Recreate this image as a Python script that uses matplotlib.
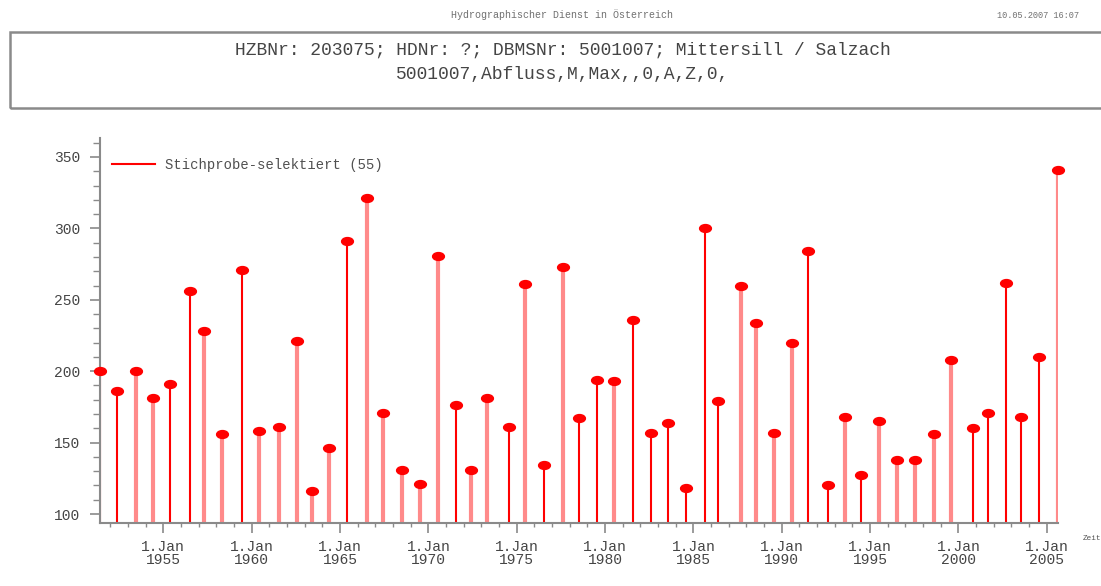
import matplotlib
matplotlib.use("Agg")
import matplotlib.pyplot as plt
import matplotlib.dates as mdates
import matplotlib.transforms as mtransforms
from matplotlib.lines import Line2D
from matplotlib.patches import Rectangle
from matplotlib.path import Path
import numpy as np

# annual maximum discharge, Mittersill / Salzach
dates = [
    "1951-06-03", "1952-05-23", "1953-06-21", "1954-06-07", "1955-05-27",
    "1956-07-13", "1957-05-01", "1958-05-08", "1959-06-07", "1960-05-27",
    "1961-07-13", "1962-07-24", "1963-05-30", "1964-05-19", "1965-05-27",
    "1966-07-13", "1967-06-10", "1968-07-09", "1969-07-20", "1970-07-27",
    "1971-08-04", "1972-06-10", "1973-04-20", "1974-07-20", "1975-06-14",
    "1976-07-13", "1977-08-11", "1978-07-09", "1979-07-20", "1980-07-05",
    "1981-08-04", "1982-08-11", "1983-07-31", "1984-08-07", "1985-09-06",
    "1986-06-03", "1987-09-02", "1988-07-09", "1989-07-20", "1990-07-27",
    "1991-06-25", "1992-08-11", "1993-07-31", "1994-06-28", "1995-07-05",
    "1996-07-13", "1997-07-24", "1998-08-22", "1999-08-07", "2000-10-19",
    "2001-09-13", "2002-09-02", "2003-07-09", "2004-07-20", "2005-08-20",
]
discharge = [
    200, 186, 200, 181, 191, 256, 228, 156, 271, 158,
    161, 221, 116, 146, 291, 321, 171, 131, 121, 281,
    176, 131, 181, 161, 261, 134, 273, 167, 194, 193,
    236, 157, 164, 118, 300, 179, 260, 234, 157, 220,
    284, 120, 168, 127, 165, 138, 138, 156, 208, 160,
    171, 262, 168, 210, 341,
]
legend_label = f"Stichprobe-selektiert ({len(discharge)})"
title_lines = [
    "HZBNr: 203075; HDNr: ?; DBMSNr: 5001007; Mittersill / Salzach",
    "5001007,Abfluss,M,Max,,0,A,Z,0,",
]
header_center = "Hydrographischer Dienst in Österreich"
header_right = "10.05.2007 16:07"

# stems that come out light/wide in the original raster
light = [0, 0, 1, 1, 0, 0, 1, 1, 0, 1, 1, 1, 1, 1, 0, 1, 1, 1, 1, 1,
         0, 1, 1, 0, 1, 0, 1, 0, 0, 1, 0, 0, 0, 0, 0, 0, 1, 1, 1, 1,
         0, 0, 1, 0, 1, 1, 1, 1, 1, 0, 0, 0, 0, 0, 1]

plt.rcParams["font.family"] = ["Liberation Mono", "DejaVu Sans Mono"]

W, H = 1101, 586
fig = plt.figure(figsize=(W / 100, H / 100), dpi=100)

GREY = "#8a8a8a"
TXT = "#454545"

# header
fig.text(562 / W, 1 - 15 / H, header_center, ha="center", va="center",
         fontsize=7.2, color="#707070")
fig.text(1038 / W, 1 - 15 / H, header_right, ha="center", va="center",
         fontsize=6.2, color="#707070")

# title box
fig.add_artist(Rectangle((10 / W, 1 - 108 / H), 1.2, 76 / H,
                         transform=fig.transFigure, fill=False,
                         edgecolor=GREY, lw=1.8))
fig.text(563 / W, 1 - 50 / H, title_lines[0], ha="center", va="center",
         fontsize=13, color=TXT)
fig.text(563 / W, 1 - 75 / H, title_lines[1], ha="center", va="center",
         fontsize=13, color=TXT)

ax = fig.add_axes([100 / W, 63 / H, 958 / W, 385 / H])

x = mdates.datestr2num(dates)
y = np.array(discharge)
ymin = 93.7

light = np.array(light, dtype=bool)
ax.vlines(x[~light], ymin, y[~light], color="#ff0000", lw=1.5, zorder=2)
ax.vlines(x[light], ymin, y[light], color="#ff8a8a", lw=3.0, zorder=2)

ellipse = Path.unit_circle().transformed(mtransforms.Affine2D().scale(1.5, 1.0))
ax.plot(x, y, ls="none", marker=ellipse, markersize=8.5, color="#ff0000",
        zorder=3, clip_on=False)

ax.set_xlim(x[0], x[-1])
ax.set_ylim(ymin, 363.3)

ax.yaxis.set_major_locator(plt.MultipleLocator(50))
ax.yaxis.set_minor_locator(plt.MultipleLocator(10))
ax.xaxis.set_major_locator(mdates.YearLocator(5, month=1, day=1))
ax.xaxis.set_minor_locator(mdates.YearLocator(1, month=1, day=1))
ax.xaxis.set_major_formatter(mdates.DateFormatter("%-d.%b\n%Y"))

for s in ["top", "right"]:
    ax.spines[s].set_visible(False)
for s in ["left", "bottom"]:
    ax.spines[s].set_color(GREY)
    ax.spines[s].set_linewidth(1.5)

ax.tick_params(axis="y", which="major", length=7.5, width=1.2, color=GREY,
               labelsize=10.5, labelcolor=TXT, pad=7)
ax.tick_params(axis="y", which="minor", length=5, width=1.0, color=GREY)
ax.tick_params(axis="x", which="major", length=7, width=1.2, color=GREY,
               labelsize=10.5, labelcolor=TXT, pad=5)
ax.tick_params(axis="x", which="minor", length=3, width=1.0, color=GREY)
for lab in ax.get_xticklabels():
    lab.set_linespacing(0.9)

leg = ax.legend(handles=[Line2D([], [], color="#ff0000", lw=1.5)],
                labels=[legend_label], loc="upper left",
                bbox_to_anchor=(12 / 958, 1 - 20 / 385), frameon=False,
                fontsize=10, handlelength=3.1, handletextpad=0.7,
                borderpad=0, borderaxespad=0)
for t in leg.get_texts():
    t.set_color("#505050")

fig.text(1083 / W, 1 - 539 / H, "Zeit", ha="left", va="center",
         fontsize=5.5, color="#505050")

fig.savefig("out.png", dpi=100)
